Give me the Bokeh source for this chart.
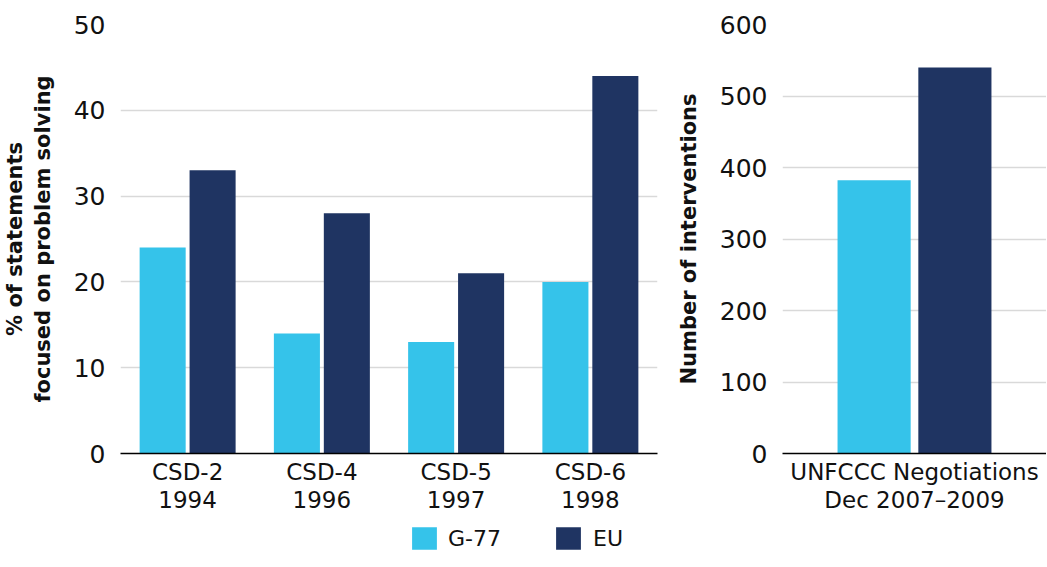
from bokeh.plotting import figure
from bokeh.models import FactorRange, Range1d, ColumnDataSource, Legend, LegendItem, SingleIntervalTicker
from bokeh.transform import dodge
from bokeh.layouts import column, row
from bokeh.embed import file_html
from bokeh.resources import INLINE

# ---- data ----
csd_sessions = ["CSD-2\n1994", "CSD-4\n1996", "CSD-5\n1997", "CSD-6\n1998"]
g77_pct = [24, 14, 13, 20]
eu_pct = [33, 28, 21, 44]

unfccc_cat = ["UNFCCC Negotiations\nDec 2007\u20132009"]
g77_interventions = [382]
eu_interventions = [540]

series_names = ["G-77", "EU"]

# ---- styles ----
FONT = "DejaVu Sans"
C_G77 = "#35C3EA"
C_EU = "#1F3462"
GRID = "#d9d9d9"
TXT = "#111111"


def style(p, interval):
    p.outline_line_color = None
    p.xgrid.grid_line_color = None
    p.ygrid.grid_line_color = GRID
    p.ygrid.grid_line_width = 1.5
    p.yaxis.ticker = SingleIntervalTicker(interval=interval)
    p.yaxis.axis_line_color = None
    p.yaxis.major_tick_line_color = None
    p.yaxis.major_tick_out = 0
    p.yaxis.major_tick_in = 0
    p.yaxis.minor_tick_line_color = None
    p.yaxis.major_label_text_font = FONT
    p.yaxis.major_label_text_font_size = "25px"
    p.yaxis.major_label_text_color = TXT
    p.yaxis.major_label_standoff = 11
    p.yaxis.axis_label_text_font = FONT
    p.yaxis.axis_label_text_font_size = "21px"
    p.yaxis.axis_label_text_font_style = "bold"
    p.yaxis.axis_label_text_color = TXT
    p.yaxis.axis_label_text_line_height = 1.15
    p.yaxis.axis_label_standoff = 16
    p.xaxis.axis_line_color = "black"
    p.xaxis.axis_line_width = 1.5
    p.xaxis.major_tick_line_color = None
    p.xaxis.major_tick_out = 0
    p.xaxis.major_tick_in = 0
    p.xaxis.minor_tick_line_color = None
    p.xaxis.major_label_text_font = FONT
    p.xaxis.major_label_text_font_size = "23px"
    p.xaxis.major_label_text_color = TXT
    p.xaxis.major_label_text_line_height = 1.1
    p.xaxis.major_label_standoff = 5


# ---- left panel ----
src1 = ColumnDataSource(dict(cat=csd_sessions, g77=g77_pct, eu=eu_pct))
p1 = figure(x_range=FactorRange(*csd_sessions), y_range=Range1d(0, 50),
            frame_width=537, frame_height=429,
            min_border_left=119, min_border_right=16, min_border_top=24, min_border_bottom=62,
            output_backend="svg", toolbar_location=None)
p1.vbar(x=dodge("cat", -0.186, range=p1.x_range), top="g77", width=0.343, source=src1,
        fill_color=C_G77, line_color=None)
p1.vbar(x=dodge("cat", 0.186, range=p1.x_range), top="eu", width=0.343, source=src1,
        fill_color=C_EU, line_color=None)
style(p1, 10)
p1.yaxis.axis_label = "% of statements\nfocused on problem solving"

# ---- right panel ----
src2 = ColumnDataSource(dict(cat=unfccc_cat, g77=g77_interventions, eu=eu_interventions))
p2 = figure(x_range=FactorRange(*unfccc_cat), y_range=Range1d(0, 600),
            frame_width=264, frame_height=429,
            min_border_left=95, min_border_right=0, min_border_top=24, min_border_bottom=62,
            output_backend="svg", toolbar_location=None)
p2.vbar(x=dodge("cat", -0.153, range=p2.x_range), top="g77", width=0.277, source=src2,
        fill_color=C_G77, line_color=None)
p2.vbar(x=dodge("cat", 0.153, range=p2.x_range), top="eu", width=0.277, source=src2,
        fill_color=C_EU, line_color=None)
style(p2, 100)
p2.yaxis.axis_label = "Number of interventions"

# ---- legend strip ----
lf = figure(width=1031, height=36, x_axis_type=None, y_axis_type=None,
            x_range=Range1d(0, 1), y_range=Range1d(0, 1),
            output_backend="svg", toolbar_location=None, min_border=0)
lf.outline_line_color = None
lf.grid.visible = False
offscreen = ColumnDataSource(dict(x=[50], top=[60]))
r_g = lf.vbar(x="x", top="top", bottom=50, width=1, source=offscreen, fill_color=C_G77, line_color=None)
r_e = lf.vbar(x="x", top="top", bottom=50, width=1, source=offscreen, fill_color=C_EU, line_color=None)
legend = Legend(items=[LegendItem(label=series_names[0], renderers=[r_g]),
                       LegendItem(label=series_names[1], renderers=[r_e])],
                orientation="horizontal", location="bottom",
                glyph_width=31, glyph_height=28, label_standoff=9, spacing=52,
                label_text_font=FONT, label_text_font_size="22px", label_text_color=TXT,
                border_line_color=None, background_fill_alpha=0, padding=0, margin=0)
lf.add_layout(legend, "center")

layout = column(row(p1, p2), lf)
open("out.html", "w").write(file_html(layout, INLINE))
